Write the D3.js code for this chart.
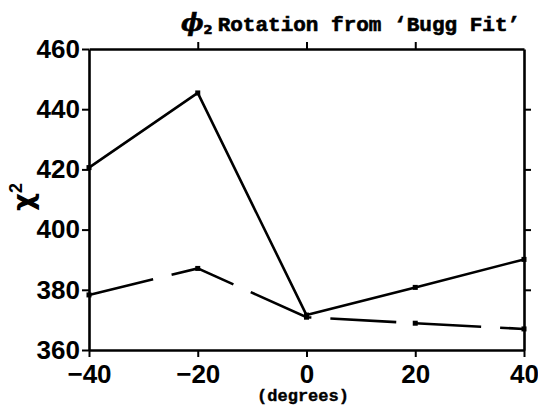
<html lang="en">
<head>
<meta charset="UTF-8">
<title>chi2 vs rotation</title>
<style>
  body { margin: 0; background: #fff; }
  svg { display: block; }
</style>
</head>
<body>
<svg id="chart" width="538" height="409"></svg>
<script src="https://d3js.org/d3.v7.min.js"></script>
<script>
  // rotation angle (degrees)
  let angles = [-40, -20, 0, 20, 40];
  // chi^2 values, solid and dashed curves
  let solidChi2 = [420.6, 445.4, 371.6, 380.8, 390.1];
  let dashedChi2 = [378.3, 387.1, 370.9, 368.9, 367.0];
  let xTicks = [-40, -20, 0, 20, 40];
  let yTicks = [360, 380, 400, 420, 440, 460];

  let svg = d3.select('#chart');
  let L = 89, R = 524, T = 49, B = 350;

  let x = d3.scaleLinear().domain([-40, 40]).range([L, R]);
  let y = d3.scaleLinear().domain([360, 460]).range([B, T]);

  let tickFont = 'bold 26px "Liberation Sans", Arial, sans-serif';
  let minus = d => d3.format('')(d).replace('-', '\u2212');

  // axes (all ticks outward)
  let axBottom = svg.append('g').attr('transform', `translate(0,${B})`)
    .call(d3.axisBottom(x).tickValues(xTicks).tickSize(7).tickSizeOuter(0).tickFormat(minus));
  let axTop = svg.append('g').attr('transform', `translate(0,${T})`)
    .call(d3.axisTop(x).tickValues([-20, 0, 20]).tickSize(7).tickSizeOuter(0).tickFormat(''));
  let axLeft = svg.append('g').attr('transform', `translate(${L},0)`)
    .call(d3.axisLeft(y).tickValues(yTicks).tickSize(7).tickSizeOuter(0));
  let axRight = svg.append('g').attr('transform', `translate(${R},0)`)
    .call(d3.axisRight(y).tickValues([380, 400, 420, 440]).tickSize(7).tickSizeOuter(0).tickFormat(''));

  [axBottom, axTop, axLeft, axRight].forEach(g => {
    g.select('.domain').attr('stroke', '#000').attr('stroke-width', 2.6);
    g.selectAll('.tick line').attr('stroke', '#000').attr('stroke-width', 2);
    g.selectAll('.tick text').style('font', tickFont).attr('fill', '#000');
  });
  axBottom.selectAll('.tick text').attr('y', 15);
  axLeft.selectAll('.tick text').attr('x', -9);

  // curves
  let line = d3.line().x((d, i) => x(angles[i])).y(d => y(d));
  svg.append('path').attr('d', line(solidChi2))
    .attr('fill', 'none').attr('stroke', '#000').attr('stroke-width', 2.6).attr('stroke-linejoin', 'round');
  svg.append('path').attr('d', line(dashedChi2))
    .attr('fill', 'none').attr('stroke', '#000').attr('stroke-width', 2.6).attr('stroke-dasharray', '66,19');

  [solidChi2, dashedChi2].forEach(s => {
    svg.selectAll(null).data(s).enter().append('rect')
      .attr('x', (d, i) => x(angles[i]) - 2.5).attr('y', d => y(d) - 2.5)
      .attr('width', 5).attr('height', 5).attr('fill', '#000');
  });

  // titles
  let title = svg.append('text').attr('x', 181).attr('y', 31)
    .attr('stroke', '#000').attr('stroke-width', 0.6)
    .style('font', 'bold 21px "Liberation Mono", "Courier New", monospace');
  title.append('tspan').text('\u03d5').style('font', 'italic bold 24px "DejaVu Serif", serif');
  title.append('tspan').text('2').attr('dy', 3).style('font', 'bold 13px "DejaVu Sans", sans-serif');
  title.append('tspan').text('Rotation from \u2018Bugg Fit\u2019').attr('dy', -3).attr('dx', 5);

  svg.append('text').attr('x', 303).attr('y', 401).attr('text-anchor', 'middle')
    .attr('stroke', '#000').attr('stroke-width', 0.4)
    .style('font', 'bold 17px "Liberation Mono", "Courier New", monospace').text('(degrees)');

  let yl = svg.append('text').attr('transform', 'translate(33,197) rotate(-90)').attr('text-anchor', 'middle')
    .style('font', 'bold 28px "DejaVu Sans", sans-serif');
  yl.append('tspan').text('\u03c7');
  yl.append('tspan').text('2').attr('dy', -11).style('font', 'bold 18px "Liberation Sans", sans-serif');
</script>
</body>
</html>
